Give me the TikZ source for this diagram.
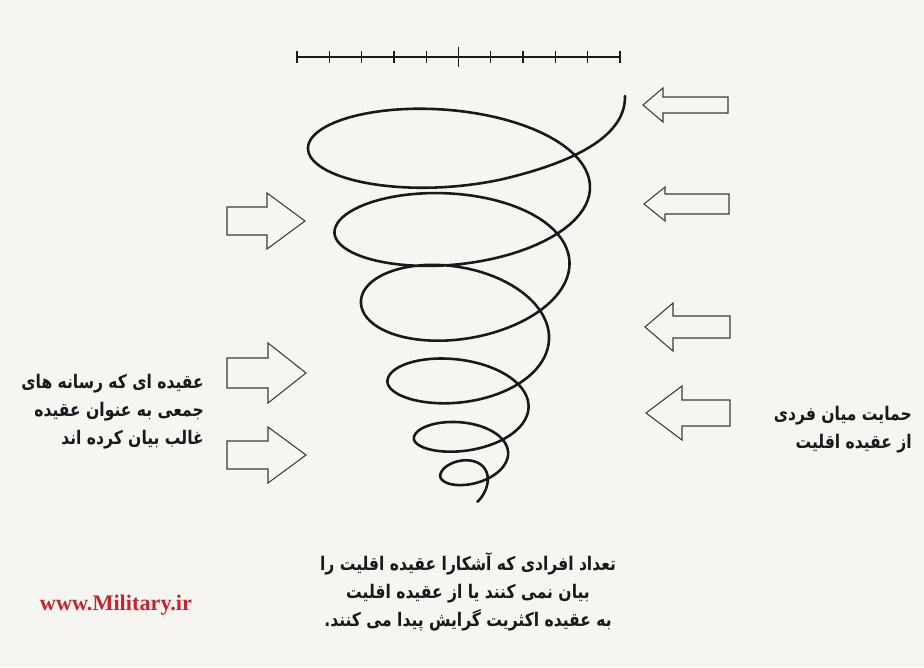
\documentclass[tikz,border=0pt]{standalone}
\usepackage{fontspec}
\setmainfont{Liberation Serif}
\newfontfamily\farsi[Script=Arabic, FakeStretch=0.83]{DejaVu Sans}
\TeXXeTstate=1
\usepackage{tikz}
\definecolor{paper}{RGB}{246,245,241}
\definecolor{ink}{RGB}{25,25,25}
\definecolor{sitered}{RGB}{196,38,48}
\tikzset{
    coil/.style = {draw=ink, line width=2.2pt, line cap=round, line join=round},
    rule/.style = {draw=ink, line width=1.1pt},
    hollow/.style = {draw=ink!85, line width=0.9pt, line join=miter},
    farsitext/.style = {font=\farsi\bfseries\fontsize{16}{24}\selectfont, text=ink, inner sep=0pt},
    declare function = {
        lx(\u) = 308+26.5*(\u-0.5);
        rx(\u) = 590-20.5*(\u-1);
        my(\u) = (\u<1.5) ? 147+84*(\u-0.5) : ((\u<2.5) ? 231+69*(\u-1.5) : ((\u<3.5) ? 300+80*(\u-2.5) : ((\u<4.5) ? 380+57*(\u-3.5) : ((\u<5.5) ? 437+37*(\u-4.5) : 474+18*(\u-5.5)))));
        ey(\u) = (\u<1.5) ? 59-6*(\u-0.5) : ((\u<2.5) ? 53+5*(\u-1.5) : ((\u<3.5) ? 58-21*(\u-2.5) : ((\u<4.5) ? 37-12*(\u-3.5) : ((\u<5.5) ? 25-7*(\u-4.5) : 18))));
    },
}
\newcommand{\farrow}[6]{% tip x, tip y, head base x, tail x, head half, shaft half
    \draw[hollow] ({#1},{#2}) -- ({#3},{#2-#5}) -- ({#3},{#2-#6}) -- ({#4},{#2-#6})
        -- ({#4},{#2+#6}) -- ({#3},{#2+#6}) -- ({#3},{#2+#5}) -- cycle;}

\begin{document}
\begin{tikzpicture}[x=0.03cm, y=-0.03cm]
    \fill[paper] (0,0) rectangle (924,667);
    \useasboundingbox (0,0) rectangle (924,667);

    % scale bar
    \draw[rule] (297,57) -- (620,57);
    \foreach \i in {0,...,10}
        \draw[rule] ({297+\i*32.3},51) -- ++(0,12);
    \draw[rule] (458.5,47) -- (458.5,67);

    % spiral
    \coordinate (top) at (625,96);
    \coordinate (join) at ({lx(0.2)+(rx(0.2)-lx(0.2))*(1+cos(72))/2}, {my(0.2)+ey(0.2)*sin(72)});
    \draw[coil] (top) .. controls (626,140) and (563.5,165) .. (join)
        -- plot[domain=0.2:6.17, samples=500, variable=\t]
        ({lx(\t)+(rx(\t)-lx(\t))*(1+cos(360*\t))/2}, {my(\t)+ey(\t)*sin(360*\t)});

    % pressure arrows
    \farrow{643}{105}{663}{728}{17}{8}
    \farrow{644}{204}{665}{729}{17}{10}
    \farrow{645}{327}{673}{730}{24}{11}
    \farrow{646}{413}{682}{730}{27}{13}
    \farrow{305}{221}{267}{227}{28}{14}
    \farrow{306}{373}{268}{227}{30}{15}
    \farrow{306}{455}{268}{227}{28}{14}

    % texts
    \node[farsitext, align=right, anchor=east] (majority) at (204,412)
        {\beginR عقیده ای که رسانه های\endR\\ \beginR جمعی به عنوان عقیده\endR\\ \beginR غالب بیان کرده اند\endR};
    \node[farsitext, align=right, anchor=east] (support) at (912,430)
        {\beginR حمایت میان فردی\endR\\ \beginR از عقیده اقلیت\endR};
    \node[farsitext, align=center] (outcome) at (468,592)
        {\beginR تعداد افرادی که آشکارا عقیده اقلیت را\endR\\ \beginR بیان نمی کنند یا از عقیده اقلیت\endR\\ \beginR به عقیده اکثریت گرایش پیدا می کنند.\endR};
    \node[font=\bfseries\fontsize{19}{19}\selectfont, text=sitered, inner sep=0pt] (site) at (116,605) {www.Military.ir};
\end{tikzpicture}
\end{document}
